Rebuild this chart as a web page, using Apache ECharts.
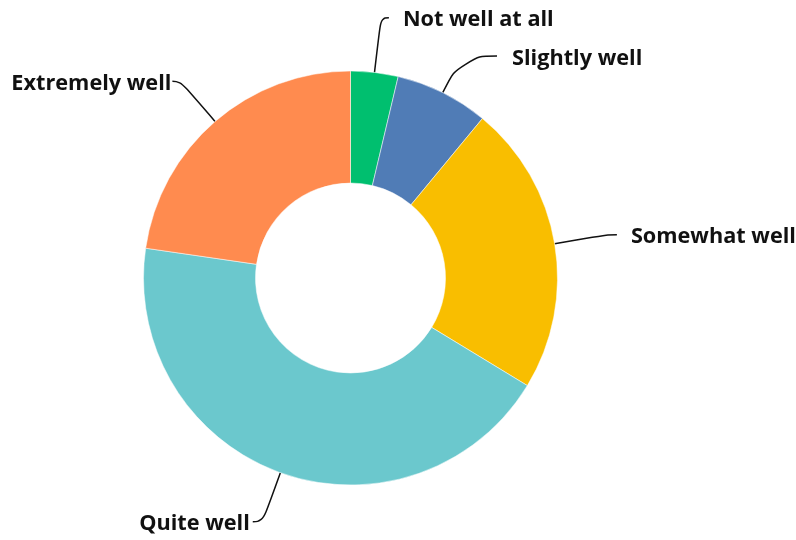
<!DOCTYPE html>
<html>
<head>
<meta charset="utf-8">
<script src="https://cdn.jsdelivr.net/npm/echarts@6/dist/echarts.min.js"></script>
<style>
  html, body { margin: 0; padding: 0; background: #ffffff; }
  #chart { width: 796px; height: 540px; }
</style>
</head>
<body>
<div id="chart"></div>
<script>
const categories = ['Not well at all', 'Slightly well', 'Somewhat well', 'Quite well', 'Extremely well'];
const values = [3.7, 7.3, 22.7, 43.6, 22.7];
const colors = ['#00BF6F', '#507CB6', '#F9BE00', '#6BC8CD', '#FF8B4F'];

// label line geometry per slice (length, length2, text gap)
const lineLen = [55, 41, 54, 52, 53];
const lineLen2 = [8, 36, 9, 10, 8];
const textGap = [14, 15, 14, 3, 1];

const chart = echarts.init(document.getElementById('chart'), null, { renderer: 'canvas' });

const data = categories.map((name, i) => ({
  name: name,
  value: values[i],
  itemStyle: { color: colors[i] },
  labelLine: { length: lineLen[i], length2: lineLen2[i] },
  label: { distanceToLabelLine: textGap[i] }
}));

chart.setOption({
  animation: false,
  backgroundColor: '#ffffff',
  series: [{
    type: 'pie',
    center: [350.5, 278],
    radius: [95, 207],
    startAngle: 90,
    clockwise: true,
    avoidLabelOverlap: false,
    itemStyle: { borderColor: '#ffffff', borderWidth: 0.5 },
    label: {
      show: true,
      position: 'outside',
      formatter: '{t|{b}}',
      color: '#111111',
      fontFamily: 'Open Sans',
      fontWeight: 'bold',
      fontSize: 21.7,
      rich: {
        t: {
          color: '#111111',
          fontFamily: 'Open Sans',
          fontWeight: 'bold',
          fontSize: 21.7,
          padding: [5, 0, 0, 0]
        }
      }
    },
    labelLine: {
      show: true,
      smooth: 0.5,
      lineStyle: { color: '#111111', width: 1.5 }
    },
    emphasis: { disabled: true },
    data: data
  }]
});
</script>
</body>
</html>
